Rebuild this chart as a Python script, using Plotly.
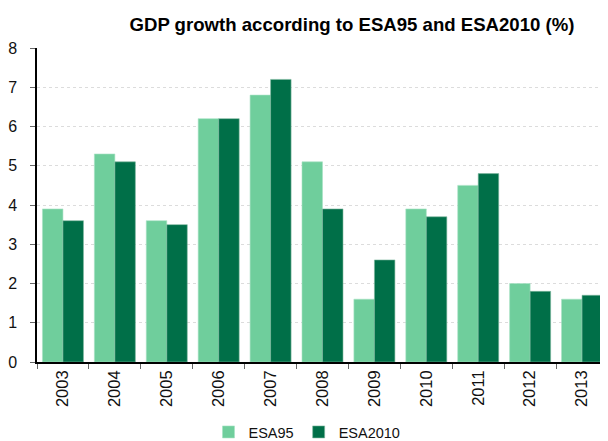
import plotly.graph_objects as go

years = ["2003", "2004", "2005", "2006", "2007", "2008", "2009", "2010", "2011", "2012", "2013"]
esa95 = [3.9, 5.3, 3.6, 6.2, 6.8, 5.1, 1.6, 3.9, 4.5, 2.0, 1.6]
esa2010 = [3.6, 5.1, 3.5, 6.2, 7.2, 3.9, 2.6, 3.7, 4.8, 1.8, 1.7]

# page body has an 8px margin, so the figure is sized/offset to compensate
W, H = 600, 433

fig = go.Figure()
fig.add_trace(go.Bar(x=years, y=esa95, name="ESA95",
                     marker=dict(color="#6FCE9C", line=dict(color="#A8E2C4", width=0.6))))
fig.add_trace(go.Bar(x=years, y=esa2010, name="ESA2010",
                     marker=dict(color="#006F48", line=dict(color="#7FB8A0", width=0.6))))

fig.update_layout(
    width=W, height=H,
    margin=dict(l=29, r=0, t=40, b=79),
    paper_bgcolor="white", plot_bgcolor="white",
    font=dict(family="Liberation Sans, Arial, sans-serif", size=16, color="#111111"),
    barmode="group", bargap=0.21, bargroupgap=0,
    title=dict(text="<b>GDP growth according to ESA95 and ESA2010 (%)</b>", x=344 / W, xanchor="center",
               xref="container", yref="container", y=1 - 16.5 / H, yanchor="middle",
               font=dict(family="Liberation Sans, Arial, sans-serif", size=18.6, color="#000000")),
    legend=dict(orientation="h", xref="container", yref="container", x=299 / W, xanchor="center",
                y=1 - 424 / H, yanchor="middle",
                font=dict(family="Liberation Sans, Arial, sans-serif", size=14.5),
                itemwidth=30, traceorder="normal", tracegroupgap=0),
    showlegend=True,
)
fig.update_xaxes(showline=True, linecolor="black", linewidth=1.5, ticks="outside", ticklen=5,
                 tickcolor="#666666", tickson="boundaries", tickangle=-90,
                 tickfont=dict(family="Liberation Sans, Arial, sans-serif", size=16.5))
fig.update_yaxes(range=[0, 8], dtick=1, showline=True, linecolor="black", linewidth=1.5, ticks="outside",
                 ticklen=5, tickcolor="#666666", showgrid=True, gridcolor="#dcdcdc", griddash="dot",
                 gridwidth=1, zeroline=False, tickfont=dict(size=16), ticklabelstandoff=10)

fig.write_html("out.html")
